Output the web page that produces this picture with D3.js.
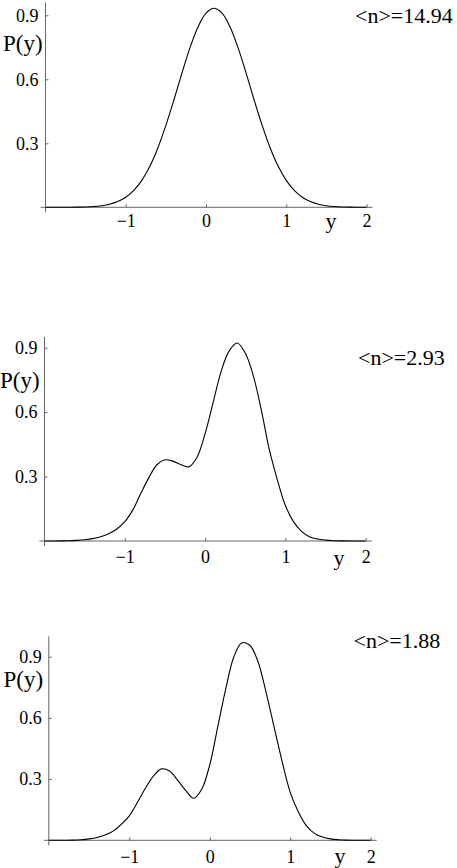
<!DOCTYPE html>
<html>
<head>
<meta charset="utf-8">
<script src="https://cdn.jsdelivr.net/npm/d3@7"></script>
<style>
  html, body { margin: 0; padding: 0; background: #fff; }
  svg { display: block; }
  text { font-family: "Liberation Serif", "Times New Roman", serif; fill: #000; }
</style>
</head>
<body>
<svg id="chart" width="457" height="868"></svg>
<script>
// ---------------- data ----------------
const xs = [-2.0,-1.9,-1.8,-1.7,-1.6,-1.5,-1.4,-1.3,-1.2,-1.1,-1.0,-0.9,-0.8,-0.7,-0.6,-0.5,-0.4,-0.3,-0.2,-0.1,
            0.0,0.1,0.2,0.3,0.4,0.5,0.6,0.7,0.8,0.9,1.0,1.1,1.2,1.3,1.4,1.5,1.6,1.7,1.8,1.9,2.0];

const pN1494 = [0,0.00005,0.00013,0.0003,0.0007,0.0017,0.0036,0.0074,0.0144,0.0267,0.047,0.079,0.126,0.192,0.278,0.384,0.503,0.629,0.747,0.845,
                0.910,0.933,0.910,0.845,0.747,0.629,0.503,0.384,0.278,0.192,0.126,0.079,0.047,0.0267,0.0144,0.0074,0.0036,0.0017,0.0007,0.0003,0.0001];

const pN293 = [0,0,0.0005,0.001,0.003,0.006,0.011,0.02,0.034,0.056,0.09,0.145,0.222,0.295,0.355,0.378,0.372,0.355,0.346,0.39,
               0.50,0.645,0.79,0.885,0.922,0.875,0.77,0.61,0.425,0.285,0.165,0.09,0.045,0.02,0.009,0.004,0.0015,0.0005,0.0002,0,0];

const pN188 = [0,0,0.0004,0.001,0.003,0.007,0.014,0.026,0.045,0.078,0.12,0.185,0.255,0.315,0.35,0.34,0.295,0.245,0.206,0.25,
               0.37,0.557,0.745,0.90,0.968,0.955,0.875,0.725,0.555,0.385,0.235,0.14,0.072,0.034,0.016,0.007,0.003,0.001,0.0004,0,0];

const nLabels = ["<n>=14.94", "<n>=2.93", "<n>=1.88"];
const series = [pN1494, pN293, pN188];
const xTicks = [-1, 0, 1, 2];
const yTicks = [0.3, 0.6, 0.9];
const xDomain = [-2, 2];
const yDomain = [0, 0.9];

// ---------------- layout (pixels) ----------------
const layout = [
  { x: [45.5, 366.5], y: [207.3, 15.3], axisTop: 0.96, xTickBase: 19.5,
    pyX: 3, pyBase: 50.5, nX: 355, nBase: 23.3, yLabX: 331, yLabBase: 228 },
  { x: [44.5, 365.7], y: [541, 347.7], axisTop: 0.95, xTickBase: 22,
    pyX: 0, pyBase: 387.5, nX: 358, nBase: 365, yLabX: 339, yLabBase: 565 },
  { x: [48.8, 370.7], y: [840.3, 656.7], axisTop: 1.0, xTickBase: 23,
    pyX: 3.5, pyBase: 687, nX: 353.5, nBase: 648.3, yLabX: 340, yLabBase: 862.5 }
];

const svg = d3.select("#chart");
const axisColor = "#666";

series.forEach((vals, i) => {
  const L = layout[i];
  const x = d3.scaleLinear().domain(xDomain).range(L.x);
  const y = d3.scaleLinear().domain(yDomain).range(L.y);
  const g = svg.append("g");

  // axis lines
  g.append("line")
    .attr("x1", x(-2) - 5).attr("x2", x(2) + 6)
    .attr("y1", y(0)).attr("y2", y(0))
    .attr("stroke", axisColor).attr("stroke-width", 1);
  g.append("line")
    .attr("x1", x(-2)).attr("x2", x(-2))
    .attr("y1", y(0) + 5).attr("y2", y(L.axisTop))
    .attr("stroke", axisColor).attr("stroke-width", 1);

  // x axis ticks (inward)
  const xa = g.append("g")
    .attr("transform", `translate(0,${y(0)})`)
    .call(d3.axisBottom(x).tickValues(xTicks).tickSizeInner(-3).tickSizeOuter(0).tickPadding(0)
      .tickFormat(d3.format("d")));
  xa.select(".domain").remove();
  xa.selectAll(".tick line").attr("stroke", axisColor);
  xa.selectAll(".tick text").attr("dy", null).attr("y", L.xTickBase)
    .attr("font-size", 18).attr("font-family", "Liberation Serif").attr("fill", "#000");

  // y axis ticks (inward)
  const ya = g.append("g")
    .attr("transform", `translate(${x(-2)},0)`)
    .call(d3.axisLeft(y).tickValues(yTicks).tickSizeInner(-3).tickSizeOuter(0).tickPadding(7)
      .tickFormat(d3.format(".1f")));
  ya.select(".domain").remove();
  ya.selectAll(".tick line").attr("stroke", axisColor);
  ya.selectAll(".tick text").attr("font-size", 18).attr("font-family", "Liberation Serif").attr("fill", "#000");

  // curve
  const pts = xs.map((xv, k) => [xv, vals[k]]);
  g.append("path")
    .datum(pts)
    .attr("fill", "none")
    .attr("stroke", "#000")
    .attr("stroke-width", 1.1)
    .attr("d", d3.line().x(d => x(d[0])).y(d => y(Math.max(0, d[1]))).curve(d3.curveCatmullRom.alpha(0.5)));

  // labels
  g.append("text").attr("x", L.pyX).attr("y", L.pyBase)
    .attr("font-size", 23).text("P(y)");
  g.append("text").attr("x", L.nX).attr("y", L.nBase)
    .attr("font-size", 22).text(nLabels[i]);
  g.append("text").attr("x", L.yLabX).attr("y", L.yLabBase)
    .attr("text-anchor", "middle").attr("font-size", 22).text("y");
});
</script>
</body>
</html>
